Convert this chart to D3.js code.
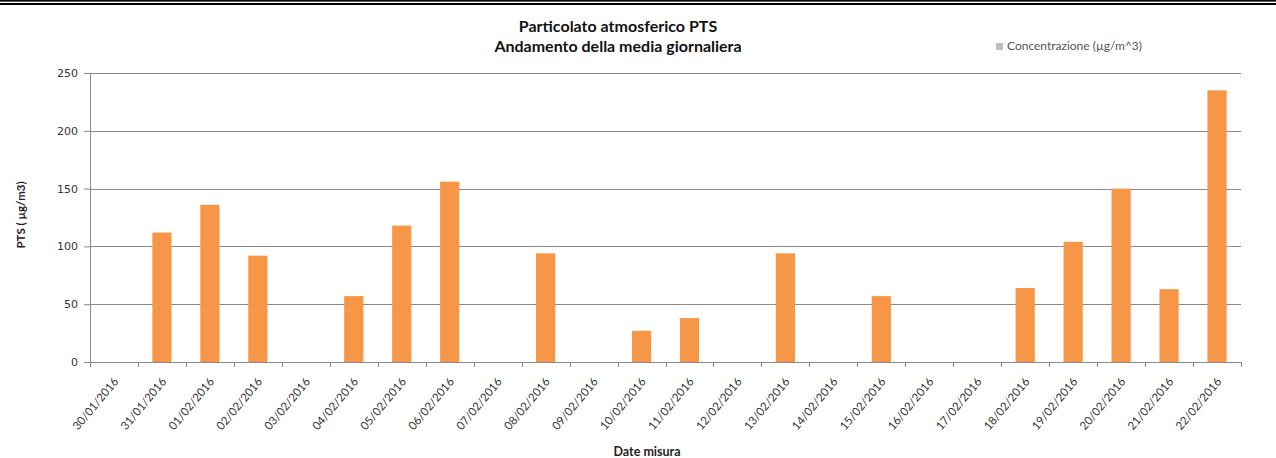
<!DOCTYPE html>
<html>
<head>
<meta charset="utf-8">
<script src="https://cdn.jsdelivr.net/npm/d3@7"></script>
<style>
	body { margin: 0; background: #fff; }
	svg { display: block; font-family: Lato, "Open Sans", sans-serif; }
</style>
</head>
<body>
<script>
/******************/
/*     data       */
/******************/
var dates = ["30/01/2016", "31/01/2016", "01/02/2016", "02/02/2016", "03/02/2016", "04/02/2016",
	"05/02/2016", "06/02/2016", "07/02/2016", "08/02/2016", "09/02/2016", "10/02/2016",
	"11/02/2016", "12/02/2016", "13/02/2016", "14/02/2016", "15/02/2016", "16/02/2016",
	"17/02/2016", "18/02/2016", "19/02/2016", "20/02/2016", "21/02/2016", "22/02/2016"];
var concentrazione = [0, 112, 136, 92, 0, 57, 118, 156, 0, 94, 0, 27,
	38, 0, 94, 0, 57, 0, 0, 64, 104, 150, 63, 235];
var yTicks = [0, 50, 100, 150, 200, 250];

/******************/
/*   d3 init var  */
/******************/
var W = 1276, H = 458;
var margin = {top: 73, right: 35, bottom: 96, left: 90},
	width = W - margin.left - margin.right,
	height = H - margin.top - margin.bottom;

var x = d3.scaleBand().domain(dates).range([0, width]).paddingInner(0.6).paddingOuter(0.3);
var y = d3.scaleLinear().domain([0, 250]).range([height, 0]);

var root = d3.select("body").append("svg").attr("width", W).attr("height", H);

//double top border
root.append("rect").attr("x", 0).attr("y", 0).attr("width", W).attr("height", 1.6).attr("fill", "#000");
root.append("rect").attr("x", 0).attr("y", 3).attr("width", W).attr("height", 2).attr("fill", "#000");

var svg = root.append("g").attr("transform", "translate(" + margin.left + "," + margin.top + ")");

//gridlines
svg.append("g")
	.selectAll("line")
	.data(yTicks.slice(1))
	.enter()
	.append("line")
	.attr("x1", 0).attr("x2", width)
	.attr("y1", function(d) { return Math.round(y(d)) + 0.5; })
	.attr("y2", function(d) { return Math.round(y(d)) + 0.5; })
	.attr("stroke", "#8a8a8a");

//bars
svg.append("g")
	.selectAll("rect")
	.data(concentrazione)
	.enter()
	.append("rect")
	.attr("x", function(d, i) { return x(dates[i]); })
	.attr("width", x.bandwidth())
	.attr("y", function(d) { return y(d); })
	.attr("height", function(d) { return height - y(d); })
	.attr("fill", "#F79646");

//y axis
var yAxis = svg.append("g")
	.call(d3.axisLeft(y).tickValues(yTicks).tickSize(6).tickPadding(6));
yAxis.selectAll("path, line").attr("stroke", "#8a8a8a");
yAxis.selectAll("text").attr("font-size", 11).attr("fill", "#333").attr("font-family", "DejaVu Sans");

//x axis: ticks at category boundaries
var xg = svg.append("g").attr("transform", "translate(0," + height + ")");
xg.append("line").attr("x1", 0).attr("x2", width).attr("y1", 0.5).attr("y2", 0.5).attr("stroke", "#8a8a8a");
xg.selectAll(".tk")
	.data(d3.range(dates.length + 1))
	.enter()
	.append("line")
	.attr("class", "tk")
	.attr("x1", function(i) { return Math.round(i * width / dates.length) + 0.5; })
	.attr("x2", function(i) { return Math.round(i * width / dates.length) + 0.5; })
	.attr("y1", 0).attr("y2", 5)
	.attr("stroke", "#8a8a8a");
xg.selectAll(".lbl")
	.data(dates)
	.enter()
	.append("text")
	.attr("class", "lbl")
	.attr("transform", function(d) {
		return "translate(" + (x(d) + x.bandwidth() / 2 + 5) + ",20) rotate(-50)";
	})
	.attr("text-anchor", "end")
	.attr("font-size", 11.5)
	.attr("fill", "#333")
	.text(function(d) { return d; });

//axis titles
root.append("text")
	.attr("transform", "translate(25,215) rotate(-90)")
	.attr("text-anchor", "middle")
	.attr("font-size", 11.5)
	.attr("font-weight", "bold")
	.attr("fill", "#222")
	.text("PTS ( µg/m3)");
root.append("text")
	.attr("x", 647).attr("y", 456)
	.attr("text-anchor", "middle")
	.attr("font-size", 12.5)
	.attr("font-weight", "bold")
	.attr("fill", "#222")
	.text("Date misura");

//title
root.append("text")
	.attr("x", 618).attr("y", 32)
	.attr("text-anchor", "middle")
	.attr("font-size", 16)
	.attr("font-weight", "bold")
	.attr("fill", "#111")
	.text("Particolato atmosferico PTS");
root.append("text")
	.attr("x", 618).attr("y", 52)
	.attr("text-anchor", "middle")
	.attr("font-size", 16)
	.attr("font-weight", "bold")
	.attr("fill", "#111")
	.text("Andamento della media giornaliera");

//legend
root.append("rect").attr("x", 996).attr("y", 43).attr("width", 7).attr("height", 7).attr("fill", "#bdbdbd");
root.append("text")
	.attr("x", 1007).attr("y", 50)
	.attr("font-size", 12)
	.attr("fill", "#555")
	.text("Concentrazione (µg/m^3)");
</script>
</body>
</html>
